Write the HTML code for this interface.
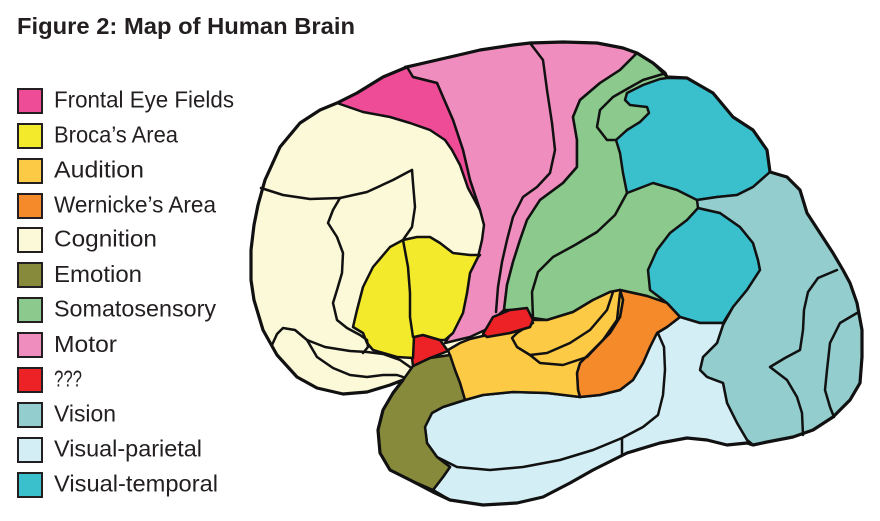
<!DOCTYPE html>
<html><head><meta charset="utf-8"><style>
html,body{margin:0;padding:0;background:#fff;}
svg{display:block;}
</style></head><body>
<svg width="880" height="521" viewBox="0 0 880 521" xmlns="http://www.w3.org/2000/svg">
<rect width="880" height="521" fill="#fff"/>
<text x="17" y="34" font-family="Liberation Sans, Arial, sans-serif" font-weight="bold" font-size="23" fill="#231F20" textLength="338" lengthAdjust="spacingAndGlyphs">Figure 2: Map of Human Brain</text>

<g stroke="#231F20" stroke-width="2">
<rect x="18" y="89" width="24" height="24" fill="#EE4C97"/>
<rect x="18" y="124" width="24" height="24" fill="#F2EA2A"/>
<rect x="18" y="159" width="24" height="24" fill="#FDCA45"/>
<rect x="18" y="194" width="24" height="24" fill="#F58A2A"/>
<rect x="18" y="228" width="24" height="24" fill="#FCF9D9"/>
<rect x="18" y="263" width="24" height="24" fill="#878A3B"/>
<rect x="18" y="298" width="24" height="24" fill="#8BC98C"/>
<rect x="18" y="333" width="24" height="24" fill="#EF8DBE"/>
<rect x="18" y="368" width="24" height="24" fill="#EC2227"/>
<rect x="18" y="403" width="24" height="24" fill="#93CDCD"/>
<rect x="18" y="438" width="24" height="24" fill="#D4EEF5"/>
<rect x="18" y="473" width="24" height="24" fill="#3ABFCC"/>
</g>
<g font-family="Liberation Sans, Arial, sans-serif" font-size="23" fill="#231F20">
<text x="54" y="107.5" textLength="180" lengthAdjust="spacingAndGlyphs">Frontal Eye Fields</text>
<text x="54" y="142.5" textLength="124" lengthAdjust="spacingAndGlyphs">Broca’s Area</text>
<text x="54" y="177.5" textLength="90" lengthAdjust="spacingAndGlyphs">Audition</text>
<text x="54" y="212.5" textLength="162" lengthAdjust="spacingAndGlyphs">Wernicke’s Area</text>
<text x="54" y="246.5" textLength="103" lengthAdjust="spacingAndGlyphs">Cognition</text>
<text x="54" y="282" textLength="88" lengthAdjust="spacingAndGlyphs">Emotion</text>
<text x="54" y="316.5" textLength="162" lengthAdjust="spacingAndGlyphs">Somatosensory</text>
<text x="54" y="352" textLength="63" lengthAdjust="spacingAndGlyphs">Motor</text>
<text x="54" y="386.5" textLength="28" lengthAdjust="spacingAndGlyphs">???</text>
<text x="54" y="421.5" textLength="62" lengthAdjust="spacingAndGlyphs">Vision</text>
<text x="54" y="456.5" textLength="148" lengthAdjust="spacingAndGlyphs">Visual-parietal</text>
<text x="54" y="491.5" textLength="164" lengthAdjust="spacingAndGlyphs">Visual-temporal</text>
</g>

<!-- Brain -->
<g stroke="#111" stroke-width="2.5" stroke-linejoin="round" stroke-linecap="round">
<path fill="#FCF9D9" stroke="none" d="M251,280 L251,250 L254,225 L258,205 L265,180 L280,147 L300,123 L320,110 L337,103 L357,93 L383,77 L407,67 L437,60 L463,54 L480,50 L513,45 L530,43 L563,42 L597,43 L623,48 L637,53 L653,63 L665,73 L667,77 L687,78 L713,93 L733,117 L753,130 L767,150 L770,172 L787,177 L800,190 L807,213 L820,233 L833,253 L843,270 L850,283 L857,303 L862,330 L862,357 L860,383 L850,400 L833,417 L813,430 L793,437 L767,442 L753,445 L747,443 L727,445 L707,440 L687,438 L660,443 L627,453 L593,470 L570,483 L543,497 L517,503 L483,505 L450,500 L433,492 L410,480 L390,470 L380,453 L378,430 L383,410 L393,393 L403,380 L390,385 L367,392 L343,394 L317,388 L297,377 L277,355 L263,330 L254,300 Z"/>

<path fill="#EF8DBE" d="M405,67 L437,60 L463,54 L480,50 L513,45 L530,43 L563,42 L597,43 L623,48 L637,53 L620,70 L600,83 L580,100 L573,117 L577,140 L577,167 L563,183 L540,200 L527,220 L520,240 L513,262 L507,285 L504,310 L495,318 L485,330 L470,337 L445,343 L450,335 L457,320 L463,310 L467,293 L470,273 L478,257 L482,240 L484,225 L480,210 L470,180 L463,150 L453,120 L443,97 L437,83 L413,77 Z"/>
<path fill="none" d="M530,43 L543,60 L547,90 L552,123 L555,150 L550,173 L537,187 L523,197 L513,217 L507,240 L502,262 L498,287 L496,312"/>

<path fill="#EE4C97" d="M337,103 L357,93 L383,77 L407,67 L413,77 L437,83 L443,97 L453,120 L463,150 L470,180 L480,210 L468,188 L460,165 L452,150 L445,140 L430,130 L410,123 L390,117 L363,112 Z"/>

<path fill="#8BC98C" d="M637,53 L620,70 L600,83 L580,100 L573,117 L577,140 L577,167 L563,183 L540,200 L527,220 L520,240 L513,262 L507,285 L504,310 L515,310 L533,318 L547,320 L573,312 L593,300 L610,292 L620,290 L647,296 L667,303 L680,317 L700,300 L705,220 L720,180 L740,150 L720,110 L687,85 L667,77 L653,63 Z"/>
<path fill="none" d="M663,74 L643,80 L627,89 L613,97 L600,110 L597,127 L607,140 L617,140"/>
<path fill="none" d="M627,193 L615,215 L597,232 L575,245 L553,257 L538,272 L532,292 L533,318"/>

<path fill="#3ABFCC" d="M667,78 L687,78 L713,93 L733,117 L753,130 L767,150 L770,172 L753,187 L737,195 L717,197 L697,200 L677,190 L653,183 L627,193 L623,173 L620,153 L616,140 L627,130 L640,122 L649,113 L647,107 L630,105 L625,100 L627,93 L643,85 L660,79 Z"/>
<path fill="#3ABFCC" d="M698,208 L687,220 L670,233 L657,250 L648,270 L650,290 L667,303 L680,317 L700,323 L723,323 L733,307 L747,290 L760,270 L758,260 L753,243 L740,227 L720,213 Z"/>

<path fill="#93CDCD" d="M770,172 L787,177 L800,190 L807,213 L820,233 L833,253 L843,270 L850,283 L857,303 L862,330 L862,357 L860,383 L850,400 L833,417 L813,430 L793,437 L767,442 L753,445 L747,440 L737,423 L727,403 L723,383 L707,377 L700,370 L703,357 L717,343 L723,325 L733,307 L747,290 L760,270 L758,260 L753,243 L740,227 L720,213 L698,208 L697,200 L717,197 L737,195 L753,187 Z"/>
<path fill="none" d="M837,270 L818,278 L808,292 L804,310 L803,330 L800,350 L785,358 L770,367 L787,380 L797,397 L802,413 L803,435"/>
<path fill="none" d="M857,313 L840,323 L830,343 L827,370 L825,390 L830,407 L834,417"/>

<path fill="#D4EEF5" d="M433,490 L443,477 L450,467 L437,457 L427,443 L425,427 L432,413 L443,407 L465,400 L483,395 L513,392 L547,393 L580,397 L600,395 L620,390 L633,380 L643,363 L650,347 L657,333 L667,327 L680,317 L700,323 L723,323 L723,325 L717,343 L703,357 L700,370 L707,377 L723,383 L727,403 L737,423 L747,440 L753,445 L747,443 L727,445 L707,440 L687,438 L660,443 L627,453 L593,470 L570,483 L543,497 L517,503 L483,505 L450,500 Z"/>
<path fill="none" d="M437,457 L457,467 L490,470 L523,467 L560,460 L593,450 L622,438 L643,427 L658,415 L663,395 L665,370 L664,347 L657,331"/>
<path fill="none" d="M622,438 L622,455"/>

<path fill="#F58A2A" d="M620,290 L647,296 L667,303 L680,317 L667,327 L657,333 L650,347 L643,363 L633,380 L620,390 L600,395 L580,397 L578,390 L577,373 L580,363 L593,350 L610,333 L620,317 L623,300 Z"/>

<path fill="#FDCA45" d="M448,350 L460,343 L470,339 L487,335 L510,333 L530,327 L533,320 L547,320 L573,312 L593,300 L610,292 L620,290 L623,300 L620,317 L610,333 L593,350 L580,363 L577,373 L578,390 L580,397 L547,393 L513,392 L483,395 L465,400 L460,383 L455,370 Z"/>
<path fill="none" d="M613,292 L607,310 L590,330 L570,343 L547,353 L530,355 L517,347 L512,338 L517,333 L533,323"/>
<path fill="none" d="M620,293 L617,320 L603,340 L587,357 L563,365 L540,363 L530,355"/>

<path fill="#EC2227" d="M483,334 L493,317 L510,310 L527,308 L533,320 L530,327 L510,333 L487,337 Z"/>

<path fill="#878A3B" d="M403,380 L413,366 L430,358 L450,355 L455,370 L460,383 L465,400 L443,407 L432,413 L425,427 L427,443 L437,457 L450,467 L443,477 L433,490 L410,480 L390,470 L380,453 L378,430 L383,410 L393,393 Z"/>

<path fill="#EC2227" d="M413,337 L423,335 L440,340 L448,351 L430,358 L413,366 L411,350 Z"/>

<path fill="#F2EA2A" d="M403,240 L417,237 L430,237 L440,243 L453,253 L470,255 L480,255 L478,257 L470,273 L467,293 L463,313 L453,333 L445,340 L440,340 L423,335 L414,337 L413,358 L397,357 L373,350 L367,343 L363,333 L353,327 L357,310 L363,287 L373,267 L390,247 Z"/>
<path fill="none" d="M403,240 L408,267 L410,293 L410,317 L413,337"/>

<path fill="none" d="M261,188 L283,195 L310,199 L340,198 L367,192 L393,180 L408,172 L412,170"/>
<path fill="none" d="M412,170 L413,183 L415,207 L412,227 L405,237 L403,240"/>
<path fill="none" d="M340,198 L333,210 L328,223 L337,237 L343,253 L342,273 L337,290 L333,303 L337,320 L347,328 L360,335 L367,340 L368,347 L363,353"/>
<path fill="none" d="M272,345 L277,334 L283,328 L295,330 L307,340 L325,347 L350,351 L367,352 L383,354 L400,360 L410,367"/>
<path fill="none" d="M307,340 L317,357 L333,368 L350,375 L367,377 L383,375 L397,375 L403,377"/>

<path fill="none" stroke-width="3.2" d="M251,280 L251,250 L254,225 L258,205 L265,180 L280,147 L300,123 L320,110 L337,103 L357,93 L383,77 L407,67 L437,60 L463,54 L480,50 L513,45 L530,43 L563,42 L597,43 L623,48 L637,53 L653,63 L665,73 L667,77 L687,78 L713,93 L733,117 L753,130 L767,150 L770,172 L787,177 L800,190 L807,213 L820,233 L833,253 L843,270 L850,283 L857,303 L862,330 L862,357 L860,383 L850,400 L833,417 L813,430 L793,437 L767,442 L753,445 L747,443 L727,445 L707,440 L687,438 L660,443 L627,453 L593,470 L570,483 L543,497 L517,503 L483,505 L450,500 L433,492 L410,480 L390,470 L380,453 L378,430 L383,410 L393,393 L403,380 L390,385 L367,392 L343,394 L317,388 L297,377 L277,355 L263,330 L254,300 Z"/>
</g>
</svg>
</body></html>
